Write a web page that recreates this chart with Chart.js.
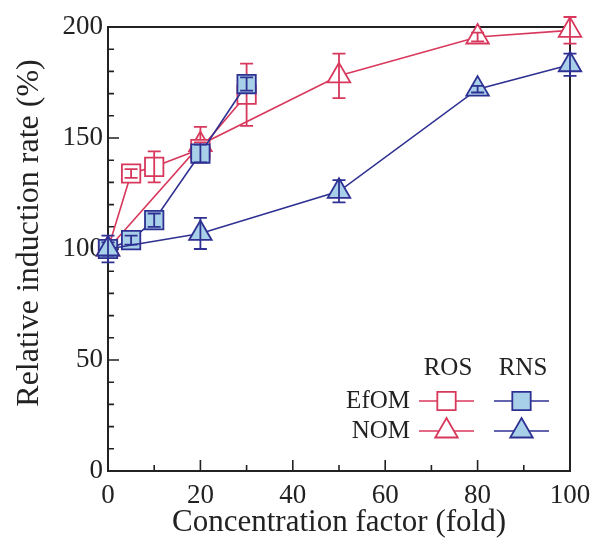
<!DOCTYPE html>
<html>
<head>
<meta charset="utf-8">
<script src="https://cdn.jsdelivr.net/npm/chart.js@4/dist/chart.umd.min.js"></script>
<style>
  html, body { margin: 0; padding: 0; background: #fff; }
  #wrap { width: 592px; height: 538px; }
</style>
</head>
<body>
<div id="wrap"><canvas id="c" width="592" height="538"></canvas></div>
<script>
// Concentration factors (fold)
const efomX = [0, 5, 10, 20, 30];
const nomX  = [0, 20, 50, 80, 100];

// Relative induction rate (%) and error bars
const rosEfomY   = [100, 134, 137, 145, 169.5];
const rosEfomErr = [4, 2, 7, 3, 14];
const rosNomY    = [100, 147, 178, 195.5, 198.5];
const rosNomErr  = [3, 8, 10, 2, 6];
const rnsEfomY   = [100, 104, 113, 143, 174.3];
const rnsEfomErr = [3, 2, 3, 4, 3];
const rnsNomY    = [100, 107, 126, 172, 183];
const rnsNomErr  = [6, 7, 5, 1.5, 5];

// Axis ticks
const xTicks = [0, 20, 40, 60, 80, 100];
const yTicks = [0, 50, 100, 150, 200];

const RED = '#d8385c';
const BLUE = '#2e3192';
const BLUE_FILL = '#a9d0e9';
const INK = '#222222';
const FONT = '"Liberation Serif", "Times New Roman", serif';

function pts(xs, ys) { return xs.map((x, i) => ({ x: x, y: ys[i] })); }

function series(label, xs, ys, err, color, fill, style) {
  return {
    label: label,
    data: pts(xs, ys),
    errors: err,
    showLine: true,
    borderColor: color,
    borderWidth: 1.6,
    backgroundColor: fill,
    pointStyle: style,
    pointRadius: 13,
    pointHoverRadius: 13,
    pointBorderWidth: 1.8,
    pointBorderColor: color,
    pointBackgroundColor: fill,
    tension: 0,
    clip: false
  };
}

// Error bars drawn right after each dataset so overlapping markers stack correctly
const errorBars = {
  id: 'errorBars',
  afterDatasetDraw(chart, args) {
    const ds = chart.data.datasets[args.index];
    if (!ds.errors) return;
    const xs = chart.scales.x, ys = chart.scales.y, ctx = chart.ctx;
    ctx.save();
    ctx.strokeStyle = ds.borderColor;
    ctx.lineWidth = 1.8;
    ds.data.forEach((p, i) => {
      const e = ds.errors[i];
      const px = xs.getPixelForValue(p.x);
      const top = ys.getPixelForValue(p.y + e);
      const bot = ys.getPixelForValue(p.y - e);
      const cap = 6.5;
      ctx.beginPath();
      ctx.moveTo(px, top); ctx.lineTo(px, bot);
      ctx.moveTo(px - cap, top); ctx.lineTo(px + cap, top);
      ctx.moveTo(px - cap, bot); ctx.lineTo(px + cap, bot);
      ctx.stroke();
    });
    ctx.restore();
  }
};

// Framed plot box with inward major/minor ticks
const frame = {
  id: 'frame',
  beforeDatasetsDraw(chart) {
    const { ctx, chartArea: a } = chart;
    const xs = chart.scales.x, ys = chart.scales.y;
    ctx.save();
    ctx.strokeStyle = INK;
    ctx.lineWidth = 2;
    ctx.strokeRect(a.left, a.top, a.right - a.left, a.bottom - a.top);
    ctx.lineWidth = 1.6;
    ctx.beginPath();
    for (let v = 10; v < 100; v += 10) {
      const px = xs.getPixelForValue(v);
      const len = v % 20 === 0 ? 11 : 6;
      ctx.moveTo(px, a.bottom); ctx.lineTo(px, a.bottom - len);
    }
    for (let v = 10; v < 200; v += 10) {
      const py = ys.getPixelForValue(v);
      const len = v % 50 === 0 ? 11 : 6;
      ctx.moveTo(a.left, py); ctx.lineTo(a.left + len, py);
    }
    ctx.stroke();
    ctx.restore();
  }
};

// In-plot legend: columns ROS / RNS, rows EfOM / NOM
const legendBox = {
  id: 'legendBox',
  afterDraw(chart) {
    const ctx = chart.ctx;
    const H = Chart.helpers;
    ctx.save();
    ctx.fillStyle = INK;
    ctx.font = '25px ' + FONT;
    ctx.textBaseline = 'middle';
    ctx.textAlign = 'center';
    ctx.fillText('ROS', 448, 368);
    ctx.fillText('RNS', 523, 368);
    ctx.textAlign = 'right';
    ctx.fillText('EfOM', 410, 401);
    ctx.fillText('NOM', 410, 431);
    const rows = [
      { y: 401, style: 'rect' },
      { y: 431, style: 'triangle' }
    ];
    const cols = [
      { x0: 419, x1: 474, color: RED, fill: '#ffffff' },
      { x0: 494, x1: 549, color: BLUE, fill: BLUE_FILL }
    ];
    rows.forEach(r => cols.forEach(c => {
      ctx.strokeStyle = c.color;
      ctx.lineWidth = 1.6;
      ctx.beginPath();
      ctx.moveTo(c.x0, r.y); ctx.lineTo(c.x1, r.y);
      ctx.stroke();
      ctx.fillStyle = c.fill;
      ctx.lineWidth = 1.8;
      H.drawPoint(ctx, { pointStyle: r.style, radius: 13, rotation: 0, borderWidth: 1.8 },
        (c.x0 + c.x1) / 2, r.y);
    }));
    ctx.restore();
  }
};

new Chart(document.getElementById('c'), {
  type: 'scatter',
  data: {
    datasets: [
      series('RNS NOM', nomX, rnsNomY, rnsNomErr, BLUE, BLUE_FILL, 'triangle'),
      series('RNS EfOM', efomX, rnsEfomY, rnsEfomErr, BLUE, BLUE_FILL, 'rect'),
      series('ROS EfOM', efomX, rosEfomY, rosEfomErr, RED, '#ffffff', 'rect'),
      series('ROS NOM', nomX, rosNomY, rosNomErr, RED, '#ffffff', 'triangle')
    ]
  },
  options: {
    responsive: false,
    animation: false,
    events: [],
    layout: { padding: { top: 27, right: 22, left: 0, bottom: 0 } },
    plugins: { legend: { display: false }, tooltip: { enabled: false } },
    scales: {
      x: {
        type: 'linear',
        min: 0, max: 100,
        afterFit(s) { s.height = 67; s.paddingLeft = 0; s.paddingRight = 0; },
        afterBuildTicks(s) { s.ticks = xTicks.map(v => ({ value: v })); },
        grid: { display: false, drawTicks: false },
        border: { display: false },
        ticks: { color: INK, font: { family: FONT, size: 27 }, padding: 9, maxRotation: 0 },
        title: { display: true, text: 'Concentration factor (fold)', color: INK,
                 font: { family: FONT, size: 31, lineHeight: 1 }, padding: { top: 0, bottom: 0 } }
      },
      y: {
        type: 'linear',
        min: 0, max: 200,
        afterFit(s) { s.width = 108; s.paddingTop = 0; s.paddingBottom = 0; },
        afterBuildTicks(s) { s.ticks = yTicks.map(v => ({ value: v })); },
        grid: { display: false, drawTicks: false },
        border: { display: false },
        ticks: { color: INK, font: { family: FONT, size: 27 }, padding: 5 },
        // leading spaces lift the rotated title a little above the axis centre
        title: { display: true, text: '    Relative induction rate (%)', color: INK,
                 font: { family: FONT, size: 32, lineHeight: 1 }, padding: { top: 14, bottom: 0 } }
      }
    }
  },
  plugins: [frame, errorBars, legendBox]
});
</script>
</body>
</html>
